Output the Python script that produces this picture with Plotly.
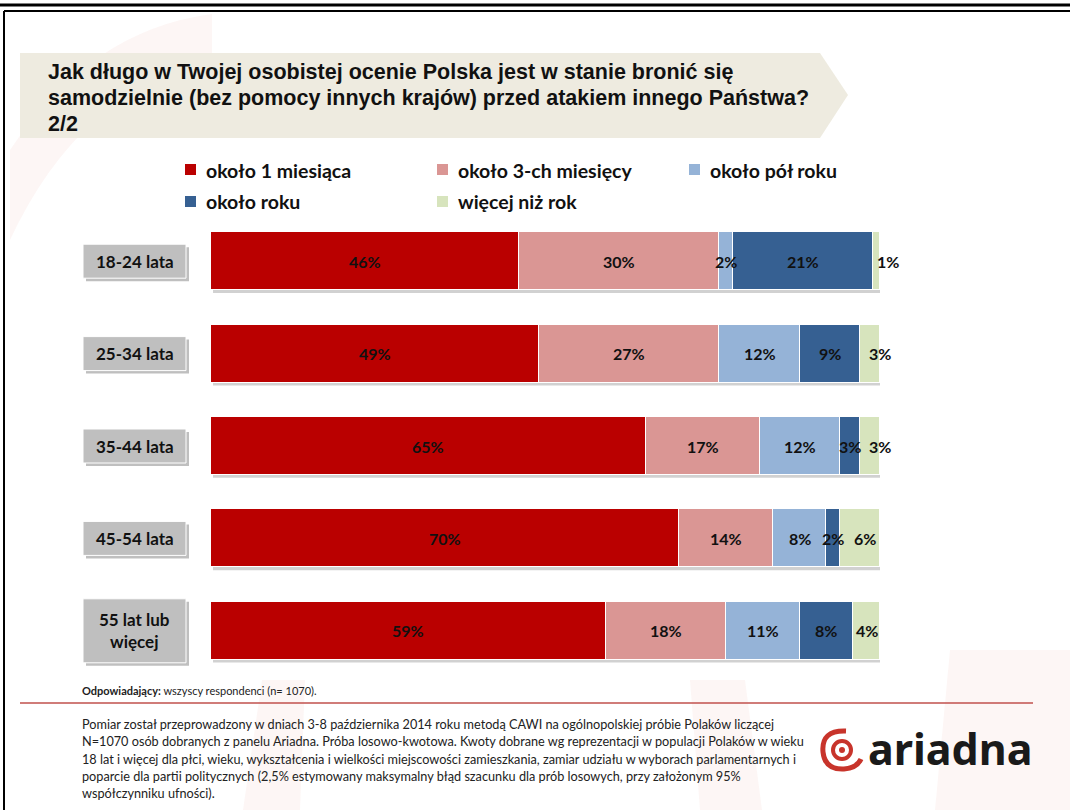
import plotly.graph_objects as go

# ---- data ----
groups = ["18-24 lata", "25-34 lata", "35-44 lata", "45-54 lata", "55 lat lub<br>więcej"]
series_names = ["około 1 miesiąca", "około 3-ch miesięcy", "około pół roku", "około roku", "więcej niż rok"]
s_1m = [46, 49, 65, 70, 59]
s_3m = [30, 27, 17, 14, 18]
s_6m = [2, 12, 12, 8, 11]
s_1y = [21, 9, 3, 2, 8]
s_more = [1, 3, 3, 6, 4]

title_lines = [
    "Jak długo w Twojej osobistej ocenie Polska jest w stanie bronić się",
    "samodzielnie (bez pomocy innych krajów) przed atakiem innego Państwa?",
    "2/2",
]
respondents_bold = "Odpowiadający:"
respondents_text = " wszyscy respondenci (n= 1070)."
method_lines = [
    "Pomiar został przeprowadzony w dniach 3-8 października 2014 roku metodą CAWI na ogólnopolskiej próbie Polaków liczącej",
    "N=1070 osób dobranych z panelu Ariadna. Próba losowo-kwotowa. Kwoty dobrane wg reprezentacji w populacji Polaków w wieku",
    "18 lat i więcej dla płci, wieku, wykształcenia i wielkości miejscowości zamieszkania, zamiar udziału w wyborach parlamentarnych i",
    "poparcie dla partii politycznych (2,5% estymowany maksymalny błąd szacunku dla prób losowych, przy założonym 95%",
    "współczynniku ufności).",
]

# ---- styling ----
W, H = 1070, 810
colors = ["#BA0000", "#DA9694", "#95B3D7", "#366092", "#D7E4BD"]
series = [s_1m, s_3m, s_6m, s_1y, s_more]
# extra horizontal nudge (px) for the last-segment labels
last_label_shift = [11, 10, 10, 5, 0]

LABEL_FONT = "Lato, Carlito, 'Open Sans', sans-serif"
TITLE_FONT = "'Liberation Sans', Arial, sans-serif"

PLOT_L, PLOT_R = 211, 880
PLOT_T, PLOT_B = 215, 677


def fx(px):
    return px / W


def fy(py):
    return 1 - py / H


fig = go.Figure()

ypos = list(range(len(groups)))
for name, vals, col in zip(series_names, series, colors):
    fig.add_trace(go.Bar(
        y=ypos, x=vals, name=name, orientation="h",
        marker=dict(color=col, line=dict(color="white", width=1)),
        width=0.628, hoverinfo="x+name", showlegend=False,
    ))

shapes = []
annotations = []

# page frame lines
shapes.append(dict(type="line", xref="paper", yref="paper", x0=0, x1=1, y0=fy(5), y1=fy(5),
                   line=dict(color="black", width=3)))
shapes.append(dict(type="line", xref="paper", yref="paper", x0=fx(4), x1=1, y0=fy(11), y1=fy(11),
                   line=dict(color="black", width=2)))
shapes.append(dict(type="line", xref="paper", yref="paper", x0=fx(4), x1=fx(4), y0=fy(11), y1=0,
                   line=dict(color="black", width=2)))

# faint background rings
ring = "rgba(200,40,30,0.045)"
shapes.append(dict(type="path", xref="paper", yref="paper", layer="below",
                   path=(f"M {fx(212)},{fy(14)} L {fx(212)},{fy(60)} "
                         f"Q {fx(80)},{fy(90)} {fx(10)},{fy(240)} L {fx(10)},{fy(150)} "
                         f"Q {fx(90)},{fy(30)} {fx(212)},{fy(14)} Z"),
                   fillcolor=ring, line=dict(width=0)))
for x_out, x_in, x_top_out, x_top_in in [(243, 300, 262, 305), (700, 762, 690, 745)]:
    shapes.append(dict(type="path", xref="paper", yref="paper", layer="below",
                       path=(f"M {fx(x_out)},{fy(810)} L {fx(x_in)},{fy(810)} "
                             f"L {fx(x_top_in)},{fy(680)} L {fx(x_top_out)},{fy(680)} Z"),
                       fillcolor=ring, line=dict(width=0)))
shapes.append(dict(type="path", xref="paper", yref="paper", layer="below",
                   path=(f"M {fx(935)},{fy(810)} L {fx(1070)},{fy(810)} L {fx(1070)},{fy(650)} "
                         f"L {fx(950)},{fy(650)} Z"),
                   fillcolor=ring, line=dict(width=0)))

# title banner
banner = (f"M {fx(20)},{fy(53)} L {fx(820)},{fy(53)} L {fx(848)},{fy(95)} "
          f"L {fx(820)},{fy(138)} L {fx(20)},{fy(138)} Z")
shapes.append(dict(type="path", xref="paper", yref="paper", path=banner,
                   fillcolor="#EEEBE0", line=dict(width=0)))
for i, (txt, yc) in enumerate(zip(title_lines, [72, 98, 124])):
    annotations.append(dict(xref="paper", yref="paper", x=fx(46), y=fy(yc), text=f"<b>{txt}</b>",
                            showarrow=False, xanchor="left", yanchor="middle",
                            font=dict(family=TITLE_FONT, size=21.5, color="#111111")))

# legend
legend_pos = [(190, 170), (442, 170), (694, 170), (190, 202), (442, 202)]
for (lx, ly), name, col in zip(legend_pos, series_names, colors):
    shapes.append(dict(type="rect", xref="paper", yref="paper",
                       x0=fx(lx - 5), x1=fx(lx + 6), y0=fy(ly - 6), y1=fy(ly + 5),
                       fillcolor=col, line=dict(width=0)))
    annotations.append(dict(xref="paper", yref="paper", x=fx(lx + 14), y=fy(ly), text=f"<b>{name}</b>",
                            showarrow=False, xanchor="left", yanchor="middle",
                            font=dict(family=LABEL_FONT, size=19.5, color="#111111")))

# bar shadows
for yi in ypos:
    shapes.append(dict(type="rect", xref="x", yref="y", layer="below",
                       x0=0.3, x1=100.4, y0=yi - 0.314 + 0.03, y1=yi + 0.314 + 0.03,
                       fillcolor="rgba(0,0,0,0.18)", line=dict(width=0)))

# category label boxes
row_h = (PLOT_B - PLOT_T) / len(groups)
for yi, g in enumerate(groups):
    yc = PLOT_T + row_h * (yi + 0.5)
    half = 32 if "<br>" in g else 17
    shapes.append(dict(type="rect", xref="paper", yref="paper",
                       x0=fx(86), x1=fx(189), y0=fy(yc - half + 3), y1=fy(yc + half + 3),
                       fillcolor="rgba(0,0,0,0.25)", line=dict(width=0)))
    shapes.append(dict(type="rect", xref="paper", yref="paper",
                       x0=fx(83), x1=fx(186), y0=fy(yc - half), y1=fy(yc + half),
                       fillcolor="#BFBFBF", line=dict(color="white", width=1)))
    annotations.append(dict(xref="paper", yref="paper", x=fx(134.5), y=fy(yc), text=f"<b>{g}</b>",
                            showarrow=False, xanchor="center", yanchor="middle", align="center",
                            font=dict(family=LABEL_FONT, size=17, color="#111111")))

# segment value labels
for yi in ypos:
    start = 0
    for si, vals in enumerate(series):
        v = vals[yi]
        shift = last_label_shift[yi] if si == len(series) - 1 else 0
        annotations.append(dict(xref="x", yref="y", x=start + v / 2, y=yi, text=f"<b>{v}%</b>",
                                showarrow=False, xanchor="center", yanchor="middle", xshift=shift,
                                font=dict(family=LABEL_FONT, size=16, color="#111111")))
        start += v

# footer
annotations.append(dict(xref="paper", yref="paper", x=fx(80), y=fy(690),
                        text=f"<b>{respondents_bold}</b>{respondents_text}",
                        showarrow=False, xanchor="left", yanchor="middle",
                        font=dict(family=LABEL_FONT, size=11, color="#222222")))
shapes.append(dict(type="line", xref="paper", yref="paper", x0=fx(20), x1=fx(1033), y0=fy(703), y1=fy(703),
                   line=dict(color="#C0504D", width=1.5)))
for i, line in enumerate(method_lines):
    annotations.append(dict(xref="paper", yref="paper", x=fx(80), y=fy(724 + 17.3 * i), text=line,
                            showarrow=False, xanchor="left", yanchor="middle",
                            font=dict(family=LABEL_FONT, size=12.7, color="#222222")))

# logo
cx, cy = 842, 750
red = "#C8342B"
shapes.append(dict(type="path", xref="paper", yref="paper",
                   path=(f"M {fx(cx + 4)},{fy(cy - 19)} "
                         f"Q {fx(cx - 21)},{fy(cy - 20)} {fx(cx - 19)},{fy(cy + 2)} "
                         f"Q {fx(cx - 17)},{fy(cy + 20)} {fx(cx + 2)},{fy(cy + 19)} "
                         f"Q {fx(cx + 15)},{fy(cy + 18)} {fx(cx + 19)},{fy(cy + 9)}"),
                   line=dict(color=red, width=5)))
shapes.append(dict(type="circle", xref="paper", yref="paper",
                   x0=fx(cx - 9), x1=fx(cx + 9), y0=fy(cy - 9), y1=fy(cy + 9),
                   line=dict(color=red, width=4)))
shapes.append(dict(type="circle", xref="paper", yref="paper",
                   x0=fx(cx - 3), x1=fx(cx + 3), y0=fy(cy - 3), y1=fy(cy + 3),
                   fillcolor=red, line=dict(width=0)))
annotations.append(dict(xref="paper", yref="paper", x=fx(866), y=fy(748), text="<b>ariadna</b>",
                        showarrow=False, xanchor="left", yanchor="middle",
                        font=dict(family="'Noto Sans', sans-serif", size=43, color="#1A1A1A")))

fig.update_layout(
    width=W, height=H, autosize=False,
    margin=dict(l=0, r=0, t=0, b=0),
    paper_bgcolor="white", plot_bgcolor="rgba(0,0,0,0)",
    barmode="stack", bargap=0,
    xaxis=dict(domain=[fx(PLOT_L), fx(PLOT_R)], range=[0, 100], visible=False, fixedrange=True),
    yaxis=dict(domain=[fy(PLOT_B), fy(PLOT_T)], range=[len(groups) - 0.5, -0.5],
               visible=False, fixedrange=True),
    shapes=shapes, annotations=annotations,
    showlegend=False,
)

fig.write_html("out.html")
